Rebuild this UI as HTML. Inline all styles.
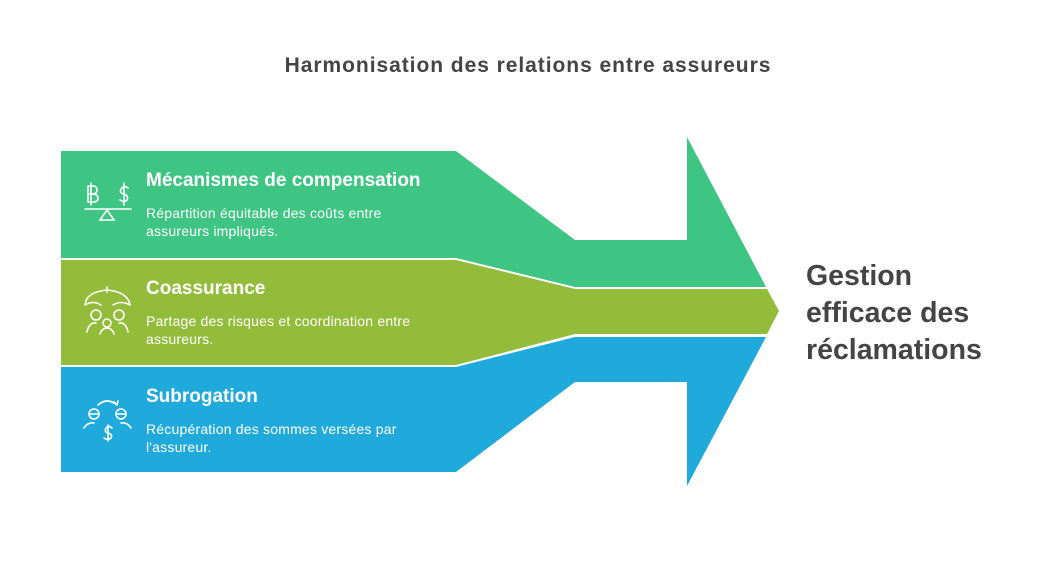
<!DOCTYPE html>
<html><head><meta charset="utf-8"><style>
body{margin:0;width:1056px;height:563px;background:#fff;font-family:"Liberation Sans",sans-serif;position:relative;overflow:hidden}
.t{position:absolute;color:#fff}
.h{font-weight:bold;font-size:19px}
.d{font-size:14px;line-height:18px;letter-spacing:0.2px}
</style></head><body>
<div style="position:absolute;left:0;width:1056px;top:54px;text-align:center;font-size:21px;letter-spacing:0.95px;font-weight:bold;color:#444">Harmonisation des relations entre assureurs</div>
<svg width="1056" height="563" style="position:absolute;left:0;top:0">
<polygon fill="#3ec584" points="61,151 456,151 575,240 687,240 687,137 766,287 575,287 456,258 61,258"/>
<polygon fill="#94bc3b" points="61,260 456,260 575,289 767,289 779,311 767,334 575,334 456,365 61,365"/>
<polygon fill="#20aadb" points="61,367 456,367 575,337 766,337 687,486 687,382 575,382 456,472 61,472"/>
<g stroke="#fff" stroke-width="1.6" fill="none" stroke-linecap="round">
<path d="M85,209 H131 M100,220 L107,210 L114,220 Z"/>
<path d="M88,186 V202 M88,186 H93 Q97,186 97,190 Q97,194 92,194 H88 M92,194 Q98,194 98,198 Q98,202 93,202 H88 M91,183 V205"/>
<path d="M128,188 Q124,185 121,189 Q119,193 124,194 Q129,196 127,200 Q124,203 120,200 M124,183 V205"/>
<path d="M85,305 Q86,292 107,290 Q128,292 130,305 M107,287 V292 M85,305 Q93,300 101,305 M113,305 Q121,300 130,305"/>
<circle cx="96" cy="315" r="5"/><circle cx="119" cy="315" r="5"/><circle cx="107" cy="323" r="4"/>
<path d="M87,332 Q89,322 96,323 M128,332 Q126,322 119,323 M100,334 Q102,328 107,328 Q112,328 114,334"/>
<circle cx="94" cy="414" r="5"/><circle cx="121" cy="414" r="5"/>
<path d="M90,414 H98 M117,414 H125 M84,428 Q88,422 94,423 M131,428 Q127,422 121,423 M98,405 Q107,397 117,405 L114,402 M117,405 L118,401"/>
<path d="M112,428 Q109,425 106,428 Q104,432 108,433 Q113,434 111,438 Q108,441 104,438 M108,425 V441"/>
</g>
</svg>
<div class="t h" style="left:146px;top:170px">Mécanismes de compensation</div>
<div class="t d" style="left:146px;top:204px">Répartition équitable des coûts entre<br>assureurs impliqués.</div>
<div class="t h" style="left:146px;top:278px">Coassurance</div>
<div class="t d" style="left:146px;top:312px">Partage des risques et coordination entre<br>assureurs.</div>
<div class="t h" style="left:146px;top:386px">Subrogation</div>
<div class="t d" style="left:146px;top:420px">Récupération des sommes versées par<br>l'assureur.</div>
<div style="position:absolute;left:806px;top:258px;font-size:28.5px;font-weight:bold;color:#444;line-height:37px">Gestion<br>efficace des<br>réclamations</div>
</body></html>
